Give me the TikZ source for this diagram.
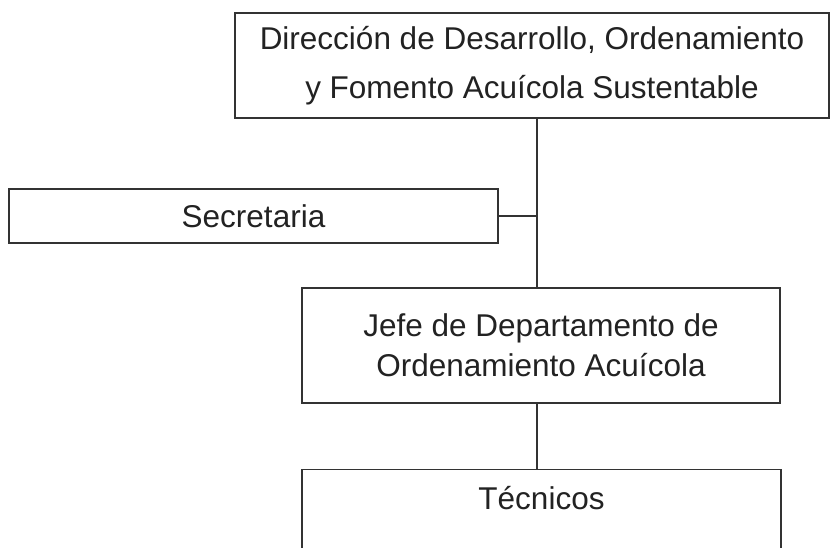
\documentclass[tikz,border=0pt]{standalone}
\usepackage{fontspec}
\setmainfont{Liberation Sans}
\usepackage{xcolor}
\definecolor{tinta}{HTML}{333333}
\definecolor{texto}{HTML}{222222}
\tikzset{
  caja/.style={draw=tinta, line width=1.4pt, rectangle, inner sep=0pt, align=center, text=texto},
  letra/.style={font=\fontsize{31.5}{40}\selectfont},
  enlace/.style={draw=tinta, line width=1.4pt}
}

\begin{document}
\begin{tikzpicture}[x=1pt,y=-1pt]
          \useasboundingbox (0,0) rectangle (832,548);
          \clip (0,0) rectangle (832,548);
          \node[caja, letra, font=\fontsize{31.5}{49}\selectfont, minimum width=594pt, minimum height=105pt] (dir) at (532,65.5) {Dirección de Desarrollo, Ordenamiento\\y Fomento Acuícola Sustentable};
          \node[caja, letra, minimum width=489pt, minimum height=54pt] (sec) at (253.5,216) {Secretaria};
          \node[caja, letra, minimum width=478pt, minimum height=115pt] (jefe) at (541,345.5) {Jefe de Departamento de\\Ordenamiento Acuícola};
          \node[caja, minimum width=479pt, minimum height=120pt, anchor=north] (tec) at (541.5,469) {};
          \node[letra, text=texto] (teclabel) at ([yshift=-29pt]tec.north) {Técnicos};
          \coordinate (eje) at (537,0);
          \draw[enlace] (dir.south -| eje) -- (jefe.north -| eje);
          \draw[enlace] (sec.east) -- (sec.east -| eje);
          \draw[enlace] (jefe.south -| eje) -- (tec.north -| eje);
        \end{tikzpicture}
\end{document}
